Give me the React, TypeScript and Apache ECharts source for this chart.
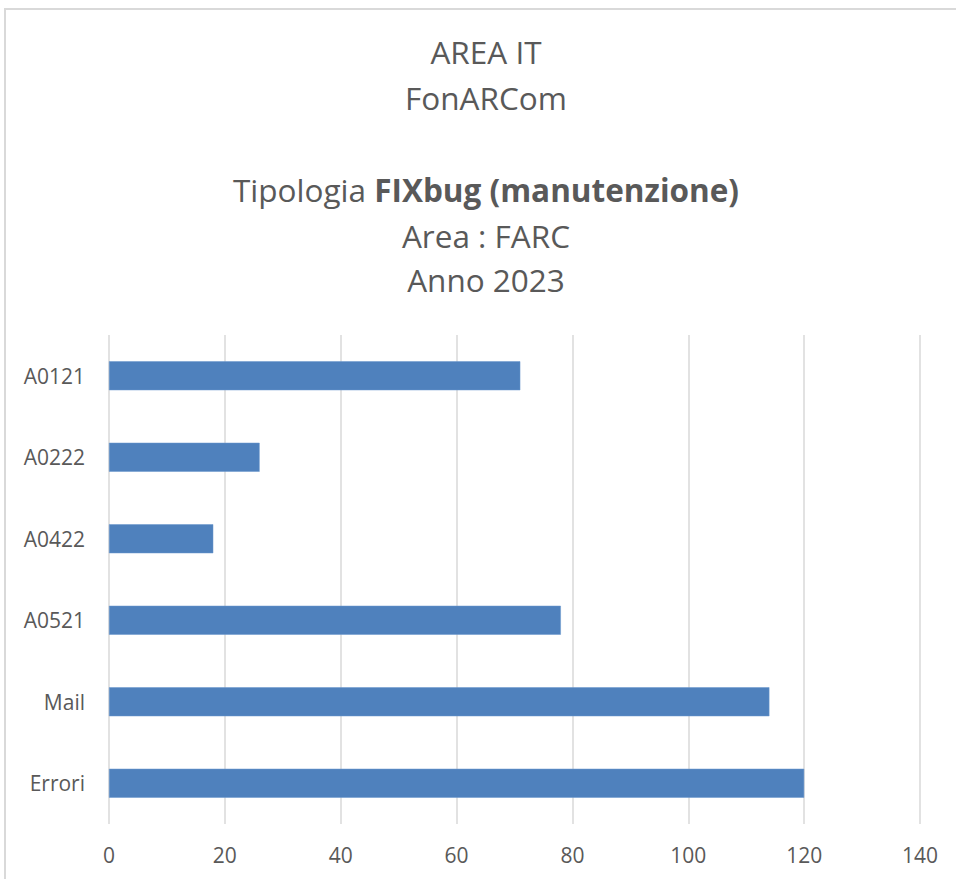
import React, { useEffect, useRef } from "react";
import * as echarts from "echarts";

const categories = ["A0121", "A0222", "A0422", "A0521", "Mail", "Errori"];
const values = [71, 26, 18, 78, 114, 120];
const titleLines = ["AREA IT", "FonARCom", "Tipologia {b|FIXbug (manutenzione)}", "Area : FARC", "Anno 2023"];
const titleCenters = [53, 99, 191, 237, 281];

export default function App() {
  const ref = useRef<HTMLDivElement>(null);
  useEffect(() => {
    if (!ref.current) return;
    const chart = echarts.init(ref.current, undefined, { renderer: "svg" });
    const font = "'Open Sans', sans-serif";
    chart.setOption({
      animation: false,
      backgroundColor: "#ffffff",
      graphic: [
        { type: "line", shape: { x1: 4, y1: 9, x2: 956, y2: 9 }, style: { stroke: "#d9d9d9", lineWidth: 2 } },
        { type: "line", shape: { x1: 5, y1: 8, x2: 5, y2: 879 }, style: { stroke: "#d9d9d9", lineWidth: 2 } },
        ...titleLines.map((t, i) => ({
          type: "text",
          x: 486,
          y: titleCenters[i] - 2,
          style: {
            text: t,
            fontFamily: font,
            fontSize: 31.5,
            fontWeight: "normal",
            fill: "#595959",
            align: "center",
            verticalAlign: "middle",
            rich: {
              b: { fontFamily: font, fontSize: 31.5, fontWeight: "bold", fill: "#595959" },
            },
          },
        })),
      ],
      grid: { left: 109, right: 36, top: 335, bottom: 55, containLabel: false },
      xAxis: {
        type: "value",
        min: 0,
        max: 140,
        interval: 20,
        axisLine: { show: false },
        axisTick: { show: false },
        splitLine: { show: true, lineStyle: { color: "#d9d9d9", width: 1.5 } },
        axisLabel: { fontFamily: font, fontSize: 21, color: "#595959", margin: 20 },
      },
      yAxis: {
        type: "category",
        data: categories,
        inverse: true,
        axisLine: { show: false },
        axisTick: { show: false },
        splitLine: { show: false },
        axisLabel: { fontFamily: font, fontSize: 21, color: "#595959", margin: 24 },
      },
      series: [
        {
          type: "bar",
          data: values,
          barWidth: 29,
          itemStyle: { color: "#4f81bd", borderColor: "#6a96cc", borderWidth: 0.5 },
        },
      ],
    });
    return () => chart.dispose();
  }, []);
  return <div ref={ref} style={{ position: "absolute", left: 0, top: 0, width: 956, height: 879 }} />;
}
